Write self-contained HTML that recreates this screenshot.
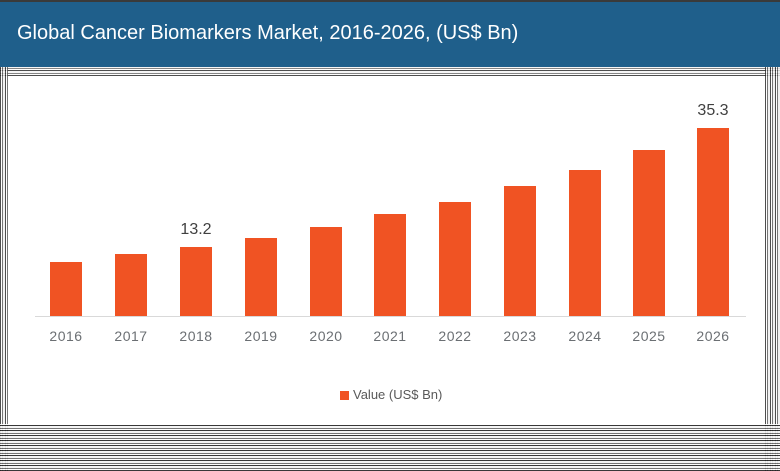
<!DOCTYPE html>
<html><head><style>
body{margin:0;width:780px;height:471px;overflow:hidden;position:relative;background:#fff;font-family:"Liberation Sans",sans-serif}
.hdr{position:absolute;left:0;top:0;width:780px;height:67px;background:#1f5f8b;border-top:2px solid #3a3a3a;box-sizing:border-box}
.hdr span{position:absolute;left:17px;top:20px;color:#fff;font-size:20px}
.noise{position:absolute;background:repeating-linear-gradient(90deg,#222 0 1px,#fff 1px 2px,#555 2px 3px,#eee 3px 5px),#888}
.nz2{background:repeating-linear-gradient(0deg,#222 0 1px,#fff 1px 2px,#666 2px 3px,#f4f4f4 3px 5px)}
.bar{position:absolute;width:32px;background:#f05323;bottom:155px}
.lab{position:absolute;top:328px;width:60px;text-align:center;color:#6b6f73;font-size:14px;letter-spacing:.5px}
.dl{position:absolute;width:60px;text-align:center;color:#404040;font-size:16px}
</style></head><body>
<div class="hdr"><span>Global Cancer Biomarkers Market, 2016-2026, (US$ Bn)</span></div>
<div class="noise nz2" style="left:0;top:67px;width:780px;height:9px;opacity:.8"></div>
<div class="noise" style="left:0;top:67px;width:8px;height:404px;opacity:.8"></div>
<div class="noise" style="left:765px;top:67px;width:15px;height:404px;opacity:.8"></div>
<div class="noise nz2" style="left:0;top:424px;width:780px;height:47px;opacity:.9"></div>
<div style="position:absolute;left:35px;top:316px;width:711px;height:1px;background:#d9d9d9"></div>
<div class="bar" style="left:50px;top:262px"></div>
<div class="bar" style="left:115px;top:254px"></div>
<div class="bar" style="left:180px;top:247px"></div>
<div class="bar" style="left:245px;top:238px"></div>
<div class="bar" style="left:310px;top:227px"></div>
<div class="bar" style="left:374px;top:214px"></div>
<div class="bar" style="left:439px;top:202px"></div>
<div class="bar" style="left:504px;top:186px"></div>
<div class="bar" style="left:569px;top:170px"></div>
<div class="bar" style="left:633px;top:150px"></div>
<div class="bar" style="left:697px;top:128px"></div>
<div class="dl" style="left:166px;top:221px">13.2</div>
<div class="dl" style="left:683px;top:102px">35.3</div>
<div class="lab" style="left:36px">2016</div>
<div class="lab" style="left:101px">2017</div>
<div class="lab" style="left:166px">2018</div>
<div class="lab" style="left:231px">2019</div>
<div class="lab" style="left:296px">2020</div>
<div class="lab" style="left:360px">2021</div>
<div class="lab" style="left:425px">2022</div>
<div class="lab" style="left:490px">2023</div>
<div class="lab" style="left:555px">2024</div>
<div class="lab" style="left:619px">2025</div>
<div class="lab" style="left:683px">2026</div>
<div style="position:absolute;left:340px;top:391px;width:9px;height:9px;background:#f05323"></div>
<div style="position:absolute;left:353px;top:387px;font-size:13px;color:#595959">Value (US$ Bn)</div>
</body></html>
